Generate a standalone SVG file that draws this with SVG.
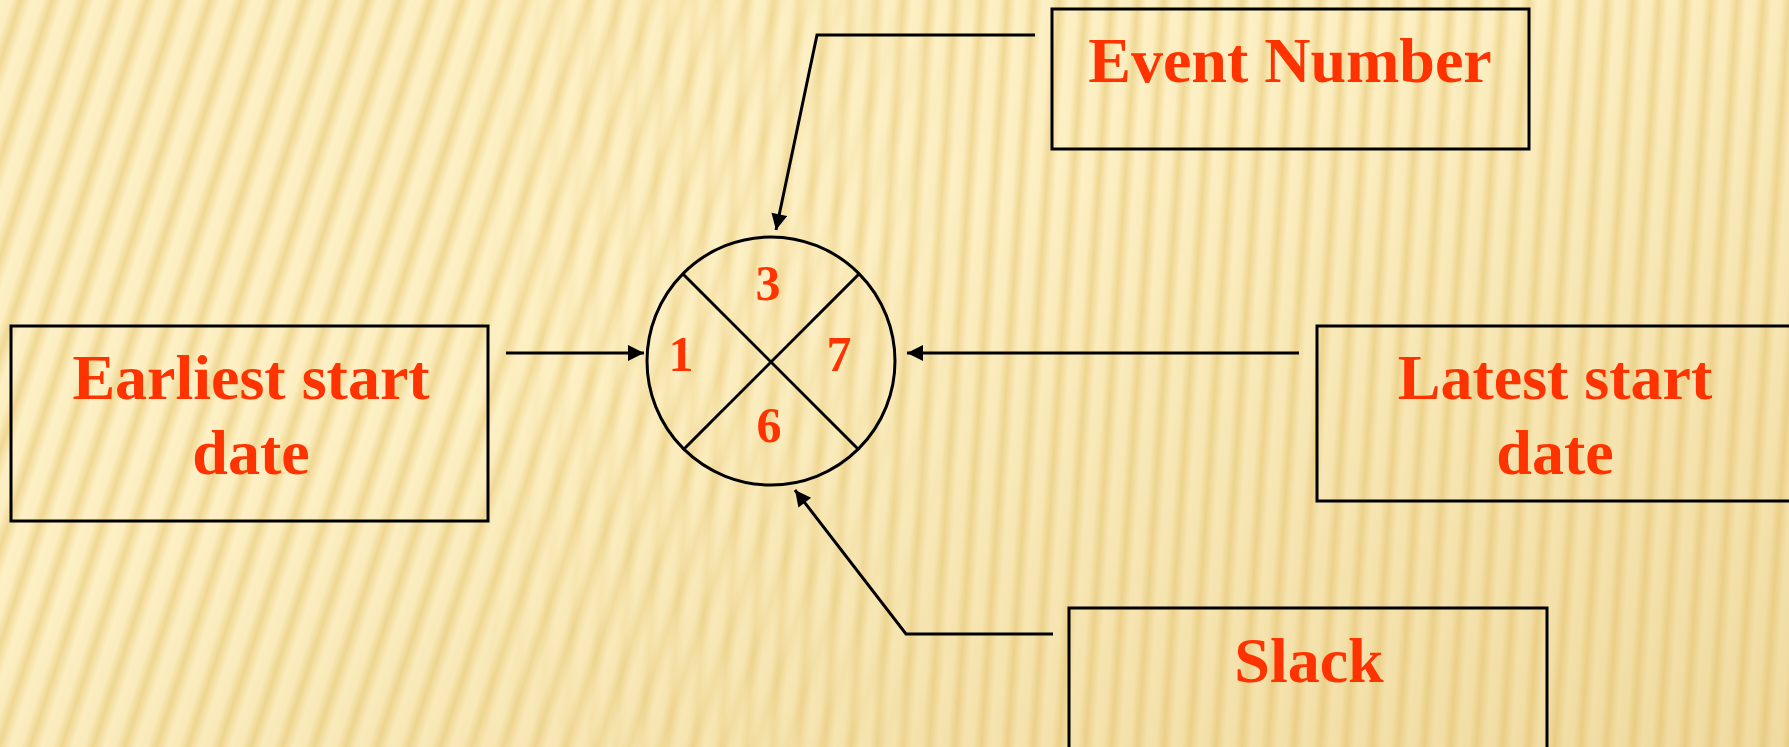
<svg xmlns="http://www.w3.org/2000/svg" width="1789" height="747" viewBox="0 0 1789 747">
<defs>
<linearGradient id="sg" x1="0" y1="0" x2="1" y2="0">
<stop offset="0" stop-color="#FDF0C6"/>
<stop offset="0.35" stop-color="#FCEEC0"/>
<stop offset="0.65" stop-color="#F0D894"/>
<stop offset="0.85" stop-color="#F8E6B0"/>
<stop offset="1" stop-color="#FDF0C6"/>
</linearGradient>
<pattern id="pL" width="30" height="60" patternUnits="userSpaceOnUse" patternTransform="rotate(18)">
<rect width="30" height="60" fill="url(#sg)"/>
</pattern>
<pattern id="pR" width="26" height="60" patternUnits="userSpaceOnUse" patternTransform="rotate(4)">
<rect width="26" height="60" fill="url(#sg)"/>
</pattern>
<linearGradient id="mg" x1="0" y1="0" x2="1" y2="0">
<stop offset="0.25" stop-color="#fff"/>
<stop offset="0.55" stop-color="#000"/>
</linearGradient>
<mask id="mk"><rect width="1789" height="747" fill="url(#mg)"/></mask>
<linearGradient id="tint" x1="0" y1="0" x2="1" y2="1">
<stop offset="0.4" stop-color="#D9B560" stop-opacity="0"/>
<stop offset="1" stop-color="#D9B560" stop-opacity="0.35"/>
</linearGradient>
<marker id="ah" viewBox="0 0 10 10" refX="10" refY="5" markerWidth="18" markerHeight="16" markerUnits="userSpaceOnUse" orient="auto">
<path d="M0,0 L10,5 L0,10 Z" fill="#000"/>
</marker>
<style>
.box{fill:none;stroke:#000;stroke-width:3}
.lbl{font-family:"Liberation Serif","Times New Roman",serif;font-weight:bold;font-size:64px;fill:#FF3300;text-anchor:middle}
.num{font-family:"Liberation Serif","Times New Roman",serif;font-weight:bold;font-size:50px;fill:#FF3300;text-anchor:middle}
.con{fill:none;stroke:#000;stroke-width:3;marker-end:url(#ah)}
</style>
</defs>
<rect width="1789" height="747" fill="url(#pR)"/>
<rect width="1789" height="747" fill="url(#pL)" mask="url(#mk)"/>
<rect width="1789" height="747" fill="url(#tint)"/>

<g id="connectors">
<polyline class="con" points="1035,35 817,35 776,230"/>
<polyline class="con" points="506,353 644,353"/>
<polyline class="con" points="1299,353 907,353"/>
<polyline class="con" points="1053,634 906,634 795,490"/>
</g>

<g id="event-node">
<circle cx="771" cy="361" r="124" fill="none" stroke="#000" stroke-width="3"/>
<line x1="683" y1="274" x2="859" y2="450" stroke="#000" stroke-width="3"/>
<line x1="859" y1="274" x2="683" y2="450" stroke="#000" stroke-width="3"/>
<text class="num" x="768" y="300">3</text>
<text class="num" x="681" y="371">1</text>
<text class="num" x="839" y="371">7</text>
<text class="num" x="769" y="442">6</text>
</g>

<g id="event-number">
<rect class="box" x="1052" y="9" width="477" height="140"/>
<text class="lbl" x="1290" y="82">Event Number</text>
</g>

<g id="earliest-start">
<rect class="box" x="11" y="326" width="477" height="195"/>
<text class="lbl" x="251" y="399">Earliest start</text>
<text class="lbl" x="251" y="474">date</text>
</g>

<g id="latest-start">
<rect class="box" x="1317" y="326" width="480" height="175"/>
<text class="lbl" x="1555" y="399">Latest start</text>
<text class="lbl" x="1555" y="474">date</text>
</g>

<g id="slack">
<rect class="box" x="1069" y="608" width="478" height="150"/>
<text class="lbl" x="1309" y="682">Slack</text>
</g>
</svg>
